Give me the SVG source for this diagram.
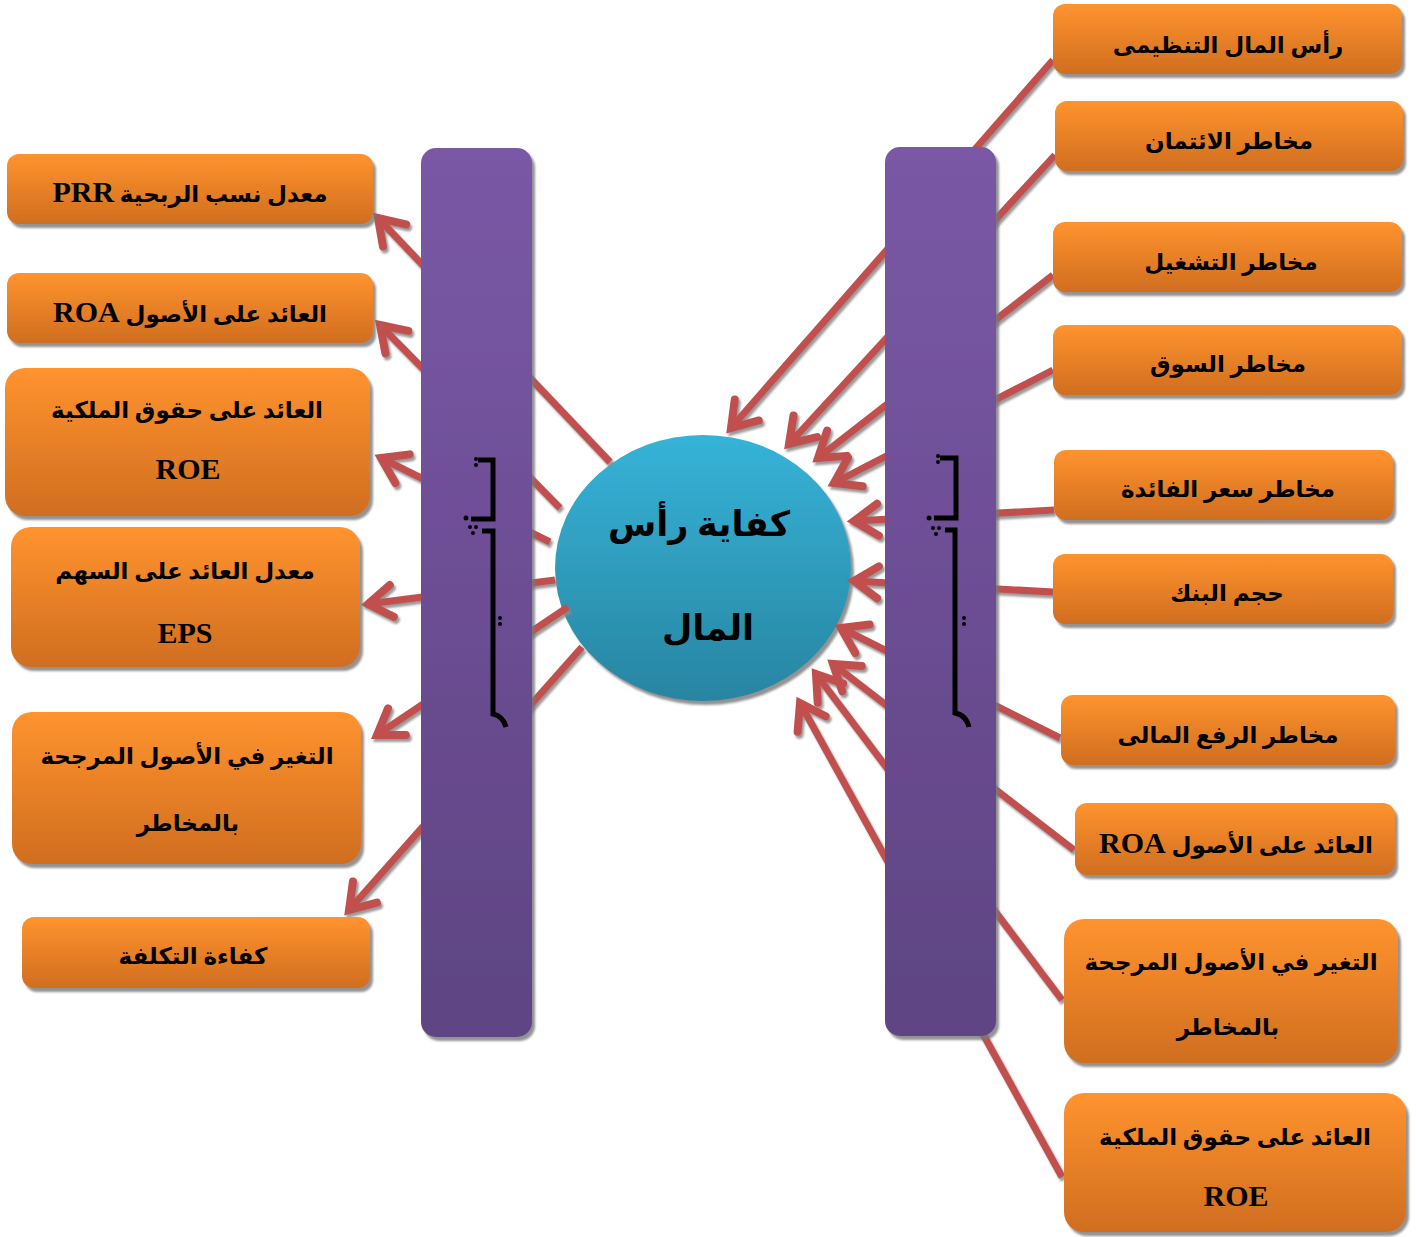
<svg xmlns="http://www.w3.org/2000/svg" width="1416" height="1237" viewBox="0 0 1416 1237">
<defs>
<linearGradient id="gOr" x1="0" y1="0" x2="0" y2="1"><stop offset="0" stop-color="#FF932F"/><stop offset="1" stop-color="#D06E1F"/></linearGradient>
<linearGradient id="gPu" x1="0" y1="0" x2="0" y2="1"><stop offset="0" stop-color="#7A58A6"/><stop offset="1" stop-color="#5E4482"/></linearGradient>
<linearGradient id="gCy" x1="0" y1="0" x2="0" y2="1"><stop offset="0" stop-color="#36B3D8"/><stop offset="1" stop-color="#2885A1"/></linearGradient>
<filter id="sh" x="-10%" y="-10%" width="130%" height="140%"><feDropShadow dx="3" dy="4" stdDeviation="1.2" flood-color="#777" flood-opacity="0.8"/></filter>
<filter id="shl" x="-20%" y="-20%" width="140%" height="140%"><feDropShadow dx="2" dy="3" stdDeviation="0.8" flood-color="#888" flood-opacity="0.85"/></filter>
<marker id="arr" markerUnits="userSpaceOnUse" viewBox="-40 -30 60 60" refX="0" refY="0" markerWidth="60" markerHeight="60" orient="auto" overflow="visible">
<path d="M-24,-16 L0,0 L-24,16" fill="none" stroke="#C0504D" stroke-width="8" stroke-linecap="round" stroke-linejoin="miter"/>
</marker>
<style>
.box{fill:url(#gOr);filter:url(#sh)}
.bar{fill:url(#gPu);filter:url(#sh)}
.t{font-family:"Liberation Serif","DejaVu Sans",serif;font-weight:bold;font-size:23px;fill:#000;text-anchor:middle;direction:rtl}
.L{font-size:30px}
.c{stroke:#C0504D;stroke-width:7;fill:none}
.a{marker-end:url(#arr)}
.br{fill:none;stroke:#000;stroke-width:5}
</style>
</defs>
<g id="center">
<ellipse cx="703" cy="568" rx="148" ry="133" fill="url(#gCy)" filter="url(#sh)"/>
<text class="t" x="699" y="536" style="font-size:35px">كفاية رأس</text>
<text class="t" x="708" y="640" style="font-size:35px">المال</text>
</g>
<g id="connectors" filter="url(#shl)">
<line class="c a" x1="610" y1="462" x2="378" y2="218"/>
<line class="c a" x1="560" y1="508" x2="380" y2="325"/>
<line class="c a" x1="550" y1="542" x2="381" y2="458"/>
<line class="c a" x1="555" y1="580" x2="368" y2="604"/>
<line class="c a" x1="568" y1="607" x2="377" y2="735"/>
<line class="c a" x1="582" y1="647" x2="349" y2="910"/>
<line class="c a" x1="1053" y1="60" x2="731" y2="428"/>
<line class="c a" x1="1055" y1="155" x2="789" y2="444"/>
<line class="c a" x1="1053" y1="275" x2="818" y2="458"/>
<line class="c a" x1="1053" y1="370" x2="834" y2="483"/>
<line class="c a" x1="1054" y1="510" x2="854" y2="521"/>
<line class="c a" x1="1053" y1="592" x2="854" y2="581"/>
<line class="c a" x1="1060" y1="738" x2="841" y2="628"/>
<line class="c a" x1="1074" y1="850" x2="833" y2="664"/>
<line class="c a" x1="1062" y1="1000" x2="816" y2="674"/>
<line class="c a" x1="1062" y1="1177" x2="800" y2="703"/>
</g>
<g id="bar-left">
<rect class="bar" x="421" y="148" width="111" height="889" rx="15"/>
<path class="br" d="M478,460 H493 V519 H471"/>
<path class="br" d="M482,531 H493 V714 Q503,716 506,727"/>
<g fill="#000"><circle cx="476" cy="459" r="2"/><circle cx="476" cy="465" r="2"/><circle cx="470" cy="527" r="2"/><circle cx="476" cy="527" r="2"/><circle cx="473" cy="533" r="2"/><circle cx="500" cy="618" r="2"/><circle cx="500" cy="624" r="2"/><circle cx="466" cy="518" r="2.5"/></g>
</g>
<g id="bar-right">
<rect class="bar" x="885" y="147" width="111" height="889" rx="15"/>
<path class="br" d="M940,458 H956 V518 H934"/>
<path class="br" d="M945,530 H955 V713 Q966,715 969,727"/>
<g fill="#000"><circle cx="938" cy="456" r="2"/><circle cx="938" cy="462" r="2"/><circle cx="933" cy="528" r="2"/><circle cx="939" cy="528" r="2"/><circle cx="936" cy="534" r="2"/><circle cx="964" cy="618" r="2"/><circle cx="964" cy="624" r="2"/><circle cx="929" cy="518" r="2.5"/></g>
</g>
<g id="r1"><rect class="box" x="1053" y="4" width="349" height="70" rx="12"/><text class="t" x="1228" y="53">رأس المال التنظيمى</text></g>
<g id="r2"><rect class="box" x="1055" y="101" width="348" height="70" rx="12"/><text class="t" x="1229" y="149">مخاطر الائتمان</text></g>
<g id="r3"><rect class="box" x="1053" y="222" width="349" height="70" rx="12"/><text class="t" x="1231" y="270">مخاطر التشغيل</text></g>
<g id="r4"><rect class="box" x="1053" y="325" width="349" height="70" rx="12"/><text class="t" x="1228" y="372">مخاطر السوق</text></g>
<g id="r5"><rect class="box" x="1054" y="450" width="339" height="70" rx="12"/><text class="t" x="1228" y="497">مخاطر سعر الفائدة</text></g>
<g id="r6"><rect class="box" x="1053" y="554" width="340" height="70" rx="12"/><text class="t" x="1227" y="601">حجم البنك</text></g>
<g id="r7"><rect class="box" x="1061" y="695" width="334" height="70" rx="12"/><text class="t" x="1228" y="743">مخاطر الرفع المالى</text></g>
<g id="r8"><rect class="box" x="1075" y="803" width="320" height="72" rx="12"/><text class="t" x="1236" y="853">العائد على الأصول <tspan class="L">ROA</tspan></text></g>
<g id="r9"><rect class="box" x="1064" y="919" width="334" height="144" rx="20"/><text class="t" x="1231" y="970">التغير في الأصول المرجحة</text><text class="t" x="1228" y="1035">بالمخاطر</text></g>
<g id="r10"><rect class="box" x="1064" y="1093" width="342" height="139" rx="20"/><text class="t" x="1235" y="1145">العائد على حقوق الملكية</text><text class="t L" x="1236" y="1206">ROE</text></g>
<g id="l1"><rect class="box" x="7" y="154" width="366" height="70" rx="12"/><text class="t" x="190" y="202">معدل نسب الربحية <tspan class="L">PRR</tspan></text></g>
<g id="l2"><rect class="box" x="7" y="273" width="366" height="70" rx="12"/><text class="t" x="190" y="322">العائد على الأصول <tspan class="L">ROA</tspan></text></g>
<g id="l3"><rect class="box" x="5" y="368" width="365" height="148" rx="20"/><text class="t" x="187" y="418">العائد على حقوق الملكية</text><text class="t L" x="188" y="479">ROE</text></g>
<g id="l4"><rect class="box" x="11" y="527" width="349" height="140" rx="20"/><text class="t" x="185" y="579">معدل العائد على السهم</text><text class="t L" x="185" y="643">EPS</text></g>
<g id="l5"><rect class="box" x="12" y="712" width="349" height="152" rx="20"/><text class="t" x="187" y="764">التغير في الأصول المرجحة</text><text class="t" x="188" y="831">بالمخاطر</text></g>
<g id="l6"><rect class="box" x="22" y="917" width="348" height="71" rx="12"/><text class="t" x="193" y="964">كفاءة التكلفة</text></g>
</svg>
